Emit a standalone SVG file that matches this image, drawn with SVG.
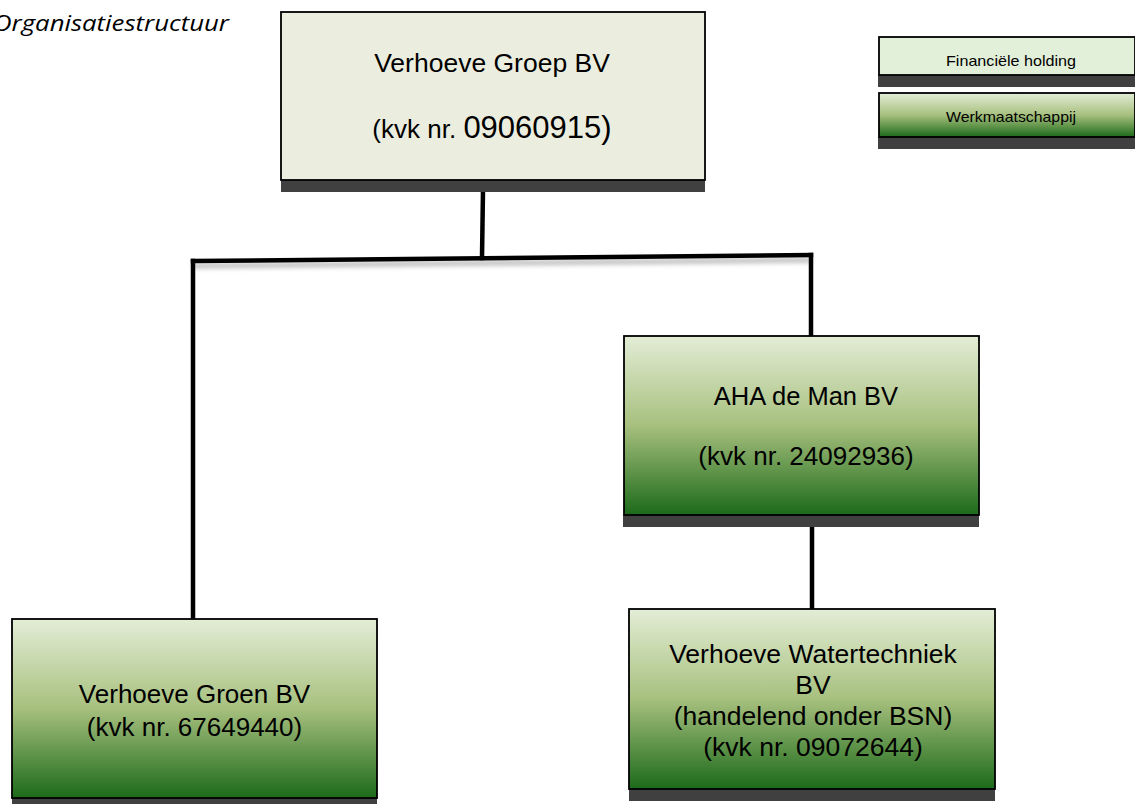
<svg xmlns="http://www.w3.org/2000/svg" width="1135" height="804" viewBox="0 0 1135 804">
  <style>
    .box { stroke: #000; stroke-width: 1.8; }
    .holding { fill: #ebeedf; }
    .legend-holding { fill: #e2efd9; }
    .werk { fill: url(#greenGrad); }
    .shadow { fill: #404040; }
    .t { font-family: "Liberation Sans", Arial, sans-serif; fill: #000; text-anchor: middle; }
    .conn { stroke: #000; stroke-width: 4.5; fill: none; stroke-linecap: square; }
  </style>
  <defs>
    <linearGradient id="greenGrad" x1="0" y1="0" x2="0" y2="1">
      <stop offset="0" stop-color="#e3edd6"/>
      <stop offset="0.5" stop-color="#a7c07e"/>
      <stop offset="1" stop-color="#1c6a1a"/>
    </linearGradient>
    <filter id="blur" x="-5%" y="-200%" width="110%" height="500%">
      <feGaussianBlur stdDeviation="2.5"/>
    </filter>
    <clipPath id="clipLeg1">
      <rect x="879" y="37" width="256" height="37"/>
    </clipPath>
  </defs>

  <text x="-7" y="31" font-family="'Open Sans', 'Liberation Sans', sans-serif" font-style="italic" font-size="22" textLength="236" lengthAdjust="spacingAndGlyphs" fill="#000">Organisatiestructuur</text>

  <g id="connectors">
    <path d="M193,266 L811,260" stroke="#888" stroke-width="4" fill="none" filter="url(#blur)" opacity="0.7"/>
    <line class="conn" x1="483" y1="190" x2="482" y2="258"/>
    <line class="conn" x1="193" y1="261" x2="811" y2="255"/>
    <line class="conn" x1="193" y1="261" x2="193" y2="619"/>
    <line class="conn" x1="811" y1="255" x2="811" y2="336"/>
    <line class="conn" x1="812" y1="527" x2="812" y2="609"/>
  </g>

  <g id="node-groep">
    <rect class="shadow" x="281" y="180" width="424" height="12"/>
    <rect class="box holding" x="281" y="12" width="424" height="168"/>
    <text class="t" x="492" y="72" font-size="26.5">Verhoeve Groep BV</text>
    <text class="t" x="492" y="138" font-size="26">(kvk nr. <tspan font-size="31">09060915)</tspan></text>
  </g>

  <g id="node-aha">
    <rect class="shadow" x="623" y="515" width="356" height="12"/>
    <rect class="box werk" x="624" y="336" width="355" height="179"/>
    <text class="t" x="806" y="405" font-size="25.5">AHA de Man BV</text>
    <text class="t" x="806" y="465" font-size="26">(kvk nr. 24092936)</text>
  </g>

  <g id="node-groen">
    <rect class="shadow" x="12" y="798" width="365" height="12"/>
    <rect class="box werk" x="12" y="619" width="365" height="179"/>
    <text class="t" x="194.5" y="703" font-size="26">Verhoeve Groen BV</text>
    <text class="t" x="194.5" y="736" font-size="26">(kvk nr. 67649440)</text>
  </g>

  <g id="node-watertechniek">
    <rect class="shadow" x="629" y="789" width="366" height="12"/>
    <rect class="box werk" x="629" y="609" width="366" height="180"/>
    <text class="t" x="813" y="663" font-size="26.5">Verhoeve Watertechniek</text>
    <text class="t" x="813" y="694" font-size="26.5">BV</text>
    <text class="t" x="813" y="725" font-size="26.5">(handelend onder BSN)</text>
    <text class="t" x="813" y="756" font-size="26.5">(kvk nr. 09072644)</text>
  </g>

  <g id="legend-holding">
    <rect class="shadow" x="878" y="75" width="257" height="12"/>
    <rect class="box legend-holding" x="879" y="37" width="256" height="38"/>
    <g clip-path="url(#clipLeg1)">
      <text class="t" x="1011" y="66" font-size="14.5" textLength="130" lengthAdjust="spacingAndGlyphs">Financiële holding</text>
    </g>
  </g>

  <g id="legend-werk">
    <rect class="shadow" x="878" y="137" width="257" height="12"/>
    <rect class="box werk" x="879" y="93" width="256" height="44"/>
    <text class="t" x="1011" y="122" font-size="14.5" textLength="130" lengthAdjust="spacingAndGlyphs">Werkmaatschappij</text>
  </g>
</svg>
